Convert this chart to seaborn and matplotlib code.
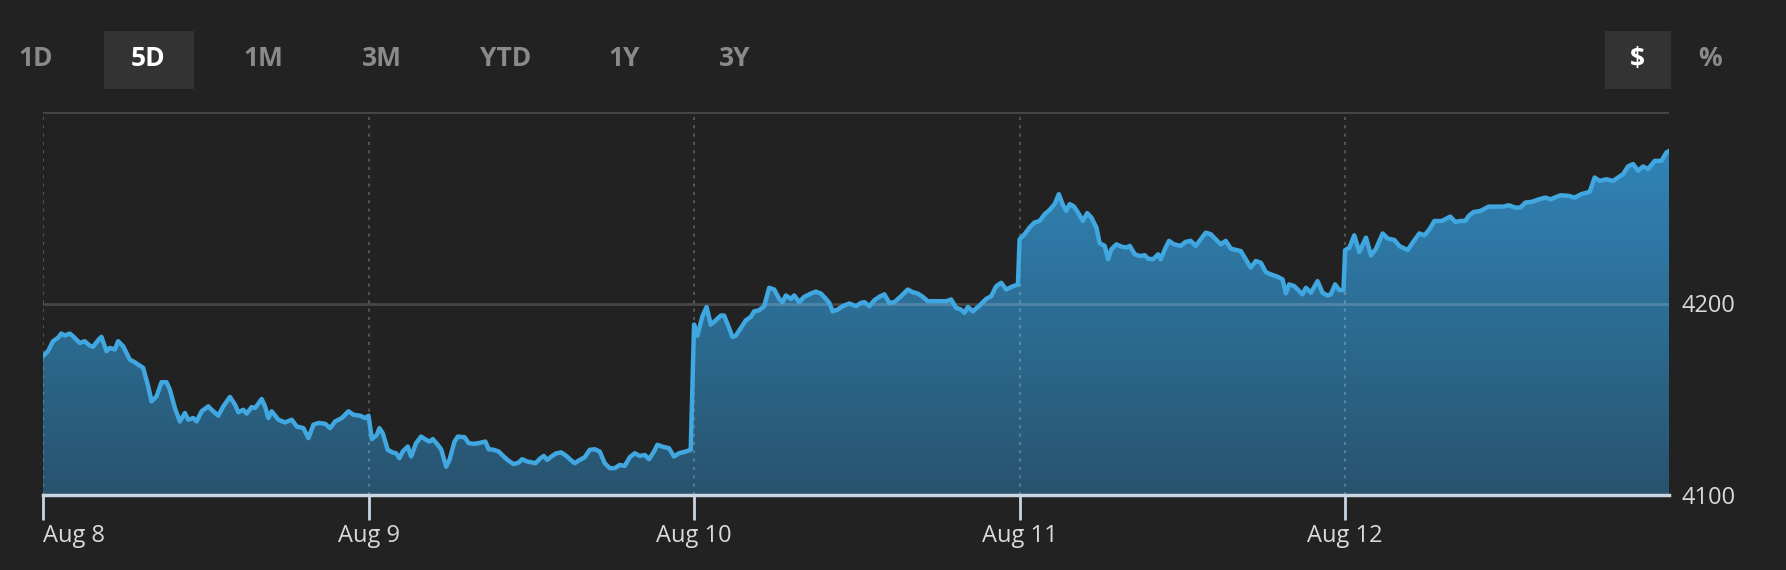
from __future__ import annotations

import matplotlib.pyplot as plt
import numpy as np
import pandas as pd
import seaborn as sns
from matplotlib.colors import LinearSegmentedColormap
from matplotlib.patches import Rectangle

# ---- data (minutes after the open, index level) ----
day_labels = ["Aug 8", "Aug 9", "Aug 10", "Aug 11", "Aug 12"]

aug08_minutes = [0, 6, 12, 18, 22, 26, 32, 36, 44, 50, 56, 60, 66, 70, 76, 80, 86, 90, 96, 104,
                 110, 114, 120, 126, 130, 136, 142, 148, 152, 158, 164, 170, 174, 180, 184, 190,
                 198, 202, 210, 216, 224, 230, 234, 240, 244, 250, 254, 262, 266, 270, 274, 282,
                 290, 298, 304, 312, 318, 324, 330, 338, 344, 350, 358, 366, 372, 380, 386]
aug08_prices = [4172.5, 4175.1, 4180.3, 4182.1, 4184.3, 4183.3, 4184.3, 4182.9, 4179.4, 4180.3,
                4178.0, 4177.4, 4180.8, 4182.6, 4175.1, 4176.8, 4176.0, 4180.3, 4177.7, 4170.7,
                4169.3, 4168.1, 4166.4, 4156.8, 4148.9, 4151.5, 4158.9, 4158.9, 4155.0, 4145.4,
                4138.4, 4142.8, 4139.3, 4140.2, 4138.4, 4143.7, 4146.3, 4144.5, 4141.4, 4146.3,
                4151.2, 4147.2, 4143.2, 4144.5, 4142.5, 4145.9, 4145.4, 4150.1, 4146.3, 4140.2,
                4143.7, 4139.3, 4137.9, 4139.3, 4135.8, 4134.9, 4129.7, 4136.7, 4137.6, 4137.2,
                4134.9, 4138.4, 4140.2, 4143.7, 4141.9, 4141.4, 4140.2]

aug09_minutes = [0, 4, 10, 13, 17, 23, 29, 33, 37, 41, 47, 51, 57, 63, 69, 73, 77, 83, 87, 93,
                 97, 103, 107, 115, 120, 126, 132, 140, 144, 150, 156, 162, 168, 174, 180, 184,
                 190, 196, 200, 206, 210, 214, 220, 225, 231, 237, 243, 247, 253, 259, 265, 271,
                 277, 283, 289, 295, 301, 307, 313, 319, 325, 331, 336, 342, 346, 352, 360, 366,
                 372, 380, 386]
aug09_prices = [4141.4, 4129.2, 4131.4, 4134.9, 4132.3, 4123.6, 4122.2, 4121.8, 4119.2, 4122.7,
                4125.3, 4120.1, 4127.1, 4130.5, 4128.8, 4127.9, 4129.2, 4126.2, 4123.9, 4114.8,
                4118.3, 4127.9, 4130.5, 4130.2, 4127.1, 4126.7, 4127.1, 4127.9, 4123.9, 4123.6,
                4122.7, 4120.1, 4117.8, 4116.1, 4117.0, 4118.7, 4117.5, 4117.0, 4116.6, 4119.2,
                4120.4, 4118.3, 4120.4, 4121.8, 4122.2, 4120.4, 4118.0, 4116.6, 4118.3, 4119.7,
                4123.6, 4123.9, 4122.7, 4116.6, 4114.0, 4114.0, 4115.7, 4115.2, 4119.7, 4121.8,
                4120.4, 4120.9, 4118.7, 4122.7, 4126.2, 4125.3, 4124.4, 4120.1, 4121.8, 4122.7,
                4123.6]

aug10_minutes = [0, 4, 10, 15, 20, 26, 32, 36, 42, 46, 50, 56, 62, 68, 72, 78, 84, 90, 96, 102,
                 106, 110, 116, 120, 126, 132, 140, 146, 152, 158, 162, 166, 172, 178, 186, 194,
                 200, 204, 210, 216, 222, 228, 234, 240, 248, 256, 262, 268, 274, 280, 290, 302,
                 308, 314, 320, 324, 328, 334, 342, 350, 356, 362, 368, 374, 382, 388]
aug10_prices = [4189.0, 4183.2, 4193.3, 4198.2, 4189.0, 4191.2, 4193.7, 4193.7, 4187.2, 4182.5,
                4183.2, 4187.2, 4191.2, 4193.0, 4195.9, 4196.5, 4198.6, 4208.2, 4207.3, 4202.4,
                4200.7, 4204.2, 4202.4, 4204.2, 4200.7, 4203.5, 4205.2, 4206.2, 4205.2, 4202.4,
                4200.3, 4195.9, 4196.8, 4198.6, 4200.0, 4198.6, 4200.3, 4200.7, 4198.6, 4201.7,
                4203.5, 4204.8, 4200.3, 4200.7, 4203.8, 4207.3, 4205.9, 4205.2, 4203.5, 4201.2,
                4201.2, 4201.2, 4202.1, 4197.7, 4196.8, 4195.1, 4198.2, 4195.9, 4198.9, 4202.4,
                4203.8, 4209.0, 4210.8, 4207.3, 4209.0, 4209.9]

aug11_minutes = [0, 6, 12, 18, 24, 30, 36, 42, 47, 52, 56, 60, 65, 70, 76, 81, 86, 92, 96, 102,
                 106, 110, 116, 122, 128, 132, 138, 144, 150, 154, 160, 166, 169, 175, 179, 185,
                 193, 199, 205, 211, 217, 223, 229, 235, 241, 247, 253, 259, 265, 271, 277, 283,
                 289, 295, 301, 309, 315, 319, 323, 329, 335, 339, 343, 349, 357, 363, 369, 373,
                 378, 383, 388]
aug11_prices = [4233.5, 4236.2, 4239.7, 4242.3, 4243.1, 4246.6, 4248.9, 4251.9, 4257.1, 4251.4,
                4248.4, 4251.9, 4250.7, 4247.5, 4243.1, 4247.2, 4244.9, 4239.7, 4231.5, 4230.1,
                4223.1, 4228.3, 4230.9, 4229.7, 4229.2, 4230.1, 4225.7, 4224.8, 4225.2, 4223.4,
                4223.1, 4225.7, 4223.1, 4229.2, 4232.7, 4230.9, 4230.1, 4232.2, 4232.7, 4230.1,
                4233.5, 4237.0, 4236.2, 4233.5, 4230.9, 4232.7, 4228.7, 4228.0, 4227.4, 4223.1,
                4218.7, 4222.2, 4221.3, 4216.4, 4215.2, 4214.0, 4212.6, 4205.3, 4210.0, 4209.1,
                4206.5, 4204.8, 4208.2, 4205.6, 4211.7, 4205.6, 4204.2, 4204.8, 4210.0, 4207.0,
                4207.0]

aug12_minutes = [0, 5, 11, 17, 25, 31, 37, 45, 51, 59, 65, 75, 81, 89, 95, 101, 107, 116, 126,
                 132, 138, 144, 148, 154, 162, 172, 182, 190, 196, 204, 210, 216, 224, 232, 240,
                 246, 258, 268, 275, 283, 293, 299, 305, 313, 321, 327, 333, 339, 345, 351, 357,
                 363, 371, 379, 385, 389]
aug12_prices = [4227.9, 4229.1, 4235.6, 4226.9, 4234.4, 4225.1, 4228.6, 4236.6, 4233.9, 4233.2,
                4230.0, 4227.9, 4231.8, 4236.6, 4235.6, 4238.7, 4243.1, 4243.1, 4245.4, 4242.6,
                4243.1, 4243.1, 4245.7, 4247.8, 4248.3, 4250.6, 4250.6, 4250.6, 4251.3, 4250.1,
                4250.1, 4252.7, 4253.1, 4254.4, 4255.3, 4254.4, 4256.5, 4256.2, 4255.3, 4257.1,
                4258.3, 4265.8, 4264.0, 4264.9, 4264.0, 4265.8, 4267.5, 4271.6, 4272.8, 4269.3,
                4271.6, 4270.2, 4274.5, 4274.5, 4278.9, 4279.8]

y_ticks = [4100, 4200]
y_grid = [4200, 4300]
range_buttons = ["1D", "5D", "1M", "3M", "YTD", "1Y", "3Y"]
active_range = "5D"
unit_buttons = ["$", "%"]
active_unit = "$"


def main() -> None:
    minutes = [aug08_minutes, aug09_minutes, aug10_minutes, aug11_minutes, aug12_minutes]
    prices = [aug08_prices, aug09_prices, aug10_prices, aug11_prices, aug12_prices]
    session = 390.0
    frames = []
    for i, (m, p) in enumerate(zip(minutes, prices)):
        frames.append(pd.DataFrame({"x": i + np.asarray(m) / session, "price": p, "day": day_labels[i]}))
    df = pd.concat(frames, ignore_index=True)

    bg = "#222222"
    sns.set_theme(style="dark")
    plt.rcParams["font.family"] = ["Open Sans", "DejaVu Sans"]

    fig = plt.figure(figsize=(17.86, 5.70), dpi=100, facecolor=bg)
    ax = fig.add_axes([43 / 1786, 75 / 570, 1626 / 1786, 383 / 570])
    ax.set_facecolor(bg)

    ymin, ymax = 4100, 4300
    xmax = len(day_labels) - 0.005

    # gradient fill under the line
    poly = ax.fill_between(df["x"], df["price"], ymin, color="none", lw=0)
    cmap = LinearSegmentedColormap.from_list("fill", ["#28536e", "#2d6f97", "#3189c0"])
    grad = ax.imshow(np.linspace(1, 0, 256).reshape(-1, 1), cmap=cmap, aspect="auto",
                     extent=[0, xmax, ymin, ymax], origin="upper", zorder=1)
    grad.set_clip_path(poly.get_paths()[0], transform=ax.transData)

    sns.lineplot(data=df, x="x", y="price", ax=ax, color="#41a7e0", lw=3.2,
                 sort=False, estimator=None, zorder=4)

    for y in y_grid:
        ax.axhline(y, color="white", alpha=0.17, lw=2, zorder=3)
    for i in range(len(day_labels)):
        ax.axvline(i, color="white", alpha=0.22, lw=1.5, ls=(0, (1.5, 2.5)), zorder=3)

    ax.set_xlim(0, xmax)
    ax.set_ylim(ymin, ymax)
    ax.set_xlabel("")
    ax.set_ylabel("")
    ax.grid(False)

    ax.set_xticks(range(len(day_labels)))
    ax.set_xticklabels(day_labels)
    ax.get_xticklabels()[0].set_horizontalalignment("left")
    ax.tick_params(axis="x", length=18, width=2, color="#c9d6e2", pad=3,
                   labelsize=17, labelcolor="#d9d9d9", bottom=True)

    ax.yaxis.tick_right()
    ax.set_yticks(y_ticks)
    ax.set_yticklabels([str(v) for v in y_ticks])
    ax.tick_params(axis="y", length=0, pad=9, labelsize=17, labelcolor="#d9d9d9")

    for side in ["top", "left", "right"]:
        ax.spines[side].set_visible(False)
    ax.spines["bottom"].set_color("#c9d6e2")
    ax.spines["bottom"].set_linewidth(2.5)
    ax.spines["bottom"].set_zorder(5)

    # range / unit selector buttons
    W, H = 1786, 570
    btn_y = 1 - 59 / H
    range_x = [36, 148, 263, 382, 506, 624, 735]
    for label, x in zip(range_buttons, range_x):
        active = label == active_range
        if active:
            fig.add_artist(Rectangle((104 / W, 1 - 89 / H), 90 / W, 58 / H,
                                     transform=fig.transFigure, color="#333333", lw=0))
        fig.text(x / W, btn_y, label, ha="center", va="center", fontsize=19, fontweight="bold",
                 color="white" if active else "#8a8a8a")
    unit_x = [1637, 1710]
    for label, x in zip(unit_buttons, unit_x):
        active = label == active_unit
        if active:
            fig.add_artist(Rectangle((1605 / W, 1 - 89 / H), 66 / W, 58 / H,
                                     transform=fig.transFigure, color="#333333", lw=0))
        fig.text(x / W, btn_y, label, ha="center", va="center", fontsize=19, fontweight="bold",
                 color="white" if active else "#8a8a8a")

    fig.savefig("out.png", dpi=100, facecolor=bg)
    plt.close(fig)


if __name__ == "__main__":
    main()
